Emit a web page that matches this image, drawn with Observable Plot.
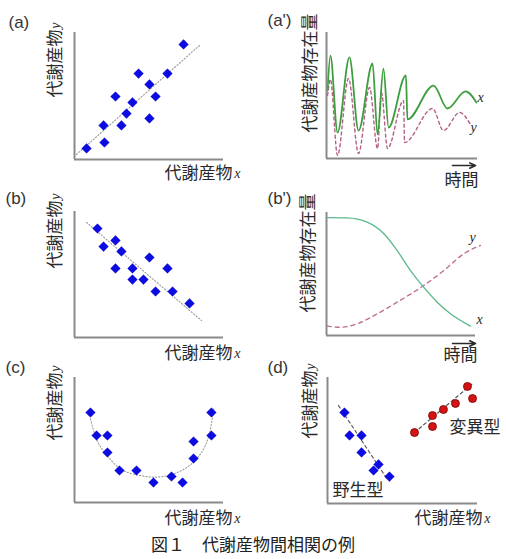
<!DOCTYPE html>
<html>
<head>
<meta charset="utf-8">
<script src="https://cdn.jsdelivr.net/npm/d3@7"></script>
<script src="https://cdn.jsdelivr.net/npm/@observablehq/plot@0.6"></script>
<style>
  body { margin: 0; background: #fff; }
  #fig { position: relative; width: 506px; height: 559px; font-family: "Noto Sans CJK JP", sans-serif; }
  #fig svg { position: absolute; }
  #caption { position: absolute; left: 0; width: 506px; top: 532px; text-align: center;
             font-size: 17px; line-height: 24px; color: #222; }
</style>
</head>
<body>
<div id="fig"><div id="caption">図１　代謝産物間相関の例</div></div>
<script>
// ---- (a) positive correlation ----
const aX = [8.1, 20.1, 19.5, 31.5, 34.9, 38.9, 27.5, 50.3, 54.4, 50.3, 43.0, 62.4, 73.2];
const aY = [8.7, 13.4, 26.8, 26.8, 36.2, 44.9, 49.6, 32.3, 49.6, 59.1, 67.7, 67.7, 90.6];
const aFitX = [1.3, 83.9];
const aFitY = [3.9, 89.8];

// ---- (a') oscillating time courses ----
const apT  = [0.7, 2.6, 7.3, 15.2, 21.2, 30.5, 33.8, 37.7, 41.1, 52.6, 53.6, 70.9, 80.1, 92.1, 99.3];
const apX  = [54.0, 81.7, 20.6, 80.2, 22.2, 75.4, 19.0, 71.4, 24.6, 65.9, 31.0, 57.9, 39.7, 53.2, 44.4];
const apTy = [0.7, 2.6, 7.3, 14.6, 21.2, 28.5, 33.8, 36.4, 40.4, 51.0, 51.7, 70.2, 77.5, 88.1, 95.4];
const apY  = [50.0, 62.7, 2.4, 63.5, 4.0, 56.3, 7.9, 52.4, 7.9, 46.0, 12.7, 39.7, 22.2, 36.5, 27.0];

// ---- (b) negative correlation ----
const bX = [15.4, 19.5, 27.5, 31.5, 27.5, 38.9, 38.9, 46.3, 50.3, 62.4, 54.4, 65.8, 77.2];
const bY = [86.5, 72.2, 77.0, 68.3, 54.8, 54.8, 46.0, 46.0, 63.5, 54.8, 36.5, 36.5, 27.0];
const bFitX = [8.1, 85.2];
const bFitY = [91.3, 13.5];

// ---- (b') opposite monotone time courses ----
const bpTx = [0.7, 13.9, 27.3, 38.5, 47.4, 56.4, 64.2, 74.3, 83.2, 96.6];
const bpX  = [95.9, 95.7, 92.1, 82.7, 69.1, 52.8, 40.7, 27.1, 17.6, 7.6];
const bpTy = [0.5, 9.4, 20.6, 34.0, 47.4, 64.2, 78.7, 92.1, 103.4];
const bpY  = [7.6, 6.7, 9.5, 17.6, 27.1, 39.8, 52.8, 66.4, 73.2];

// ---- (c) U-shaped relation ----
const cX = [10.7, 14.8, 22.1, 22.1, 30.2, 41.6, 53.0, 65.1, 72.5, 79.9, 79.9, 91.9, 91.9];
const cY = [72.0, 53.6, 53.6, 40.0, 25.6, 25.6, 16.0, 20.8, 16.0, 35.2, 48.8, 53.6, 72.0];
const cFitX = [10.7, 15.2, 21.9, 30.9, 42.1, 53.2, 64.4, 75.6, 84.6, 90.2, 93.5];
const cFitY = [67.0, 49.6, 37.6, 26.9, 22.1, 20.3, 22.1, 28.2, 38.9, 53.6, 75.0];

// ---- (d) wild type vs mutant ----
const dWildX = [11.3, 14.7, 22.7, 22.7, 34.0, 30.7, 41.3];
const dWildY = [72.2, 54.0, 54.0, 40.5, 31.0, 26.2, 21.4];
const dWildFitX = [7.3, 40.0];
const dWildFitY = [77.8, 19.0];
const dMutX = [58.0, 70.0, 70.0, 77.3, 85.3, 93.3, 96.7];
const dMutY = [56.3, 61.1, 69.8, 74.6, 79.4, 92.9, 83.3];
const dMutFitX = [58.0, 96.7];
const dMutFitY = [56.3, 95.2];

// ---- text ----
const metab = "代謝産物";
const amount = "代謝産物存在量";
const time = "時間";
const wildLabel = "野生型";
const mutLabel = "変異型";

const rows = (xs, ys) => xs.map((x, i) => ({x, y: ys[i]}));

const INK = "#2a2a2a";
const AXIS = "#8a8a8a";
const BLUE = "#0c0ce0";
const JP = "Noto Sans CJK JP";
const LAT = "Liberation Sans";
const SERIF = "Liberation Serif";

function frameText(str, o) {
  return Plot.text([str], {text: d => d, fill: INK, lineAnchor: "middle", ...o});
}

// axis label along y, optionally followed by an italic variable letter
function yLabel(main, letter, dx, top) {
  const marks = [];
  let off = top;
  if (letter) {
    marks.push(frameText(letter, {frameAnchor: "top-left", rotate: -90, textAnchor: "end",
      dx, dy: off, fontFamily: SERIF, fontStyle: "italic", fontSize: 14}));
    off += 7;
  }
  marks.push(frameText(main, {frameAnchor: "top-left", rotate: -90, textAnchor: "end",
    dx, dy: off, fontFamily: JP, fontSize: 17}));
  return marks;
}

function xLabel(dx, dy) {
  return [
    frameText("x", {frameAnchor: "bottom-right", textAnchor: "end", dx, dy,
      fontFamily: SERIF, fontStyle: "italic", fontSize: 14}),
    frameText(metab, {frameAnchor: "bottom-right", textAnchor: "end", dx: dx - 8, dy,
      fontFamily: JP, fontSize: 17})
  ];
}

function timeLabel(dx, dy, arrowX1, arrowX2, arrowY) {
  return [
    Plot.arrow([{x1: arrowX1, x2: arrowX2, y: arrowY}], {x1: "x1", x2: "x2", y1: "y", y2: "y",
      stroke: INK, strokeWidth: 1.6, headLength: 6, headAngle: 50}),
    frameText(time, {frameAnchor: "bottom-right", textAnchor: "end", dx, dy, fontFamily: JP, fontSize: 17})
  ];
}

function letterLabel(str, dx, dy) {
  return frameText(str, {frameAnchor: "top-left", textAnchor: "start", dx, dy, fontFamily: LAT, fontSize: 17, fill: "#333"});
}

function axes() {
  return [
    Plot.ruleX([0], {stroke: AXIS, strokeWidth: 2}),
    Plot.ruleY([0], {stroke: AXIS, strokeWidth: 2})
  ];
}

function diamonds(data) {
  return Plot.dot(data, {x: "x", y: "y", symbol: "diamond2", r: 4.6, fill: BLUE, stroke: "none"});
}

function dottedFit(xs, ys, curve = "linear") {
  return Plot.line(rows(xs, ys), {x: "x", y: "y", stroke: "#9a9a9a", strokeWidth: 1.1,
    strokeDasharray: "1.2,2", curve});
}

function panel({left, top, margins, marks}) {
  const [mt, mr, mb, ml] = margins;
  const svg = Plot.plot({
    width: 253,
    height: 180,
    marginTop: mt, marginRight: mr, marginBottom: mb, marginLeft: ml,
    x: {domain: [0, 100], axis: null},
    y: {domain: [0, 100], axis: null},
    style: {background: "transparent", overflow: "visible", fontFamily: JP},
    marks
  });
  svg.style.left = left + "px";
  svg.style.top = top + "px";
  document.getElementById("fig").appendChild(svg);
}

// (a)
panel({left: 0, top: 0, margins: [32, 30, 21, 74], marks: [
  letterLabel("(a)", -66, -10),
  ...yLabel(metab, "y", -19, -10),
  ...xLabel(17, 14),
  dottedFit(aFitX, aFitY),
  ...axes(),
  diamonds(rows(aX, aY))
]});

// (a')
panel({left: 253, top: 0, margins: [32, 29, 22, 73], marks: [
  letterLabel("(a')", -59, -12),
  ...yLabel(amount, null, -16, -19),
  ...timeLabel(1, 22, 83.4, 98.7, -5.6),
  Plot.line(rows(apTy, apY), {x: "x", y: "y", stroke: "#b5608a", strokeWidth: 1.4,
    strokeDasharray: "3,3", curve: "monotone-x"}),
  Plot.line(rows(apT, apX), {x: "x", y: "y", stroke: "#3c9e3c", strokeWidth: 1.8, curve: "monotone-x"}),
  ...axes(),
  Plot.text([{x: 102, y: 48.4, t: "x"}, {x: 97.4, y: 24.6, t: "y"}], {x: "x", y: "y", text: "t",
    fontFamily: SERIF, fontStyle: "italic", fontSize: 14, fill: INK})
]});

// (b)
panel({left: 0, top: 180, margins: [31, 30, 23, 74], marks: [
  letterLabel("(b)", -69, -13),
  ...yLabel(metab, "y", -19, -18),
  ...xLabel(17, 16),
  dottedFit(bFitX, bFitY),
  ...axes(),
  diamonds(rows(bX, bY))
]});

// (b')
panel({left: 253, top: 180, margins: [32, 31, 25, 73], marks: [
  letterLabel("(b')", -59, -14),
  ...yLabel(amount, null, -18, -19),
  ...timeLabel(2, 20, 84.6, 100, -6.5),
  Plot.line(rows(bpTy, bpY), {x: "x", y: "y", stroke: "#c0708f", strokeWidth: 1.4,
    strokeDasharray: "4,4", curve: "monotone-x"}),
  Plot.line(rows(bpTx, bpX), {x: "x", y: "y", stroke: "#5cb88a", strokeWidth: 1.3, curve: "monotone-x"}),
  ...axes(),
  Plot.text([{x: 98, y: 79.7, t: "y"}, {x: 102.7, y: 13, t: "x"}], {x: "x", y: "y", text: "t",
    fontFamily: SERIF, fontStyle: "italic", fontSize: 14, fill: INK})
]});

// (c)
panel({left: 0, top: 355, margins: [22, 30, 33, 74], marks: [
  letterLabel("(c)", -69, -10),
  ...yLabel(metab, "y", -19, -12),
  ...xLabel(17, 16),
  dottedFit(cFitX, cFitY, "natural"),
  ...axes(),
  diamonds(rows(cX, cY))
]});

// (d)
panel({left: 253, top: 355, margins: [22, 29, 32, 74], marks: [
  letterLabel("(d)", -60, -10),
  ...yLabel(metab, "y", -17, -14),
  ...xLabel(13, 15),
  Plot.line(rows(dWildFitX, dWildFitY), {x: "x", y: "y", stroke: "#555", strokeWidth: 1.2, strokeDasharray: "3,3"}),
  Plot.line(rows(dMutFitX, dMutFitY), {x: "x", y: "y", stroke: "#555", strokeWidth: 1.2, strokeDasharray: "3,3"}),
  ...axes(),
  diamonds(rows(dWildX, dWildY)),
  Plot.dot(rows(dMutX, dMutY), {x: "x", y: "y", r: 4, fill: "#d41414", stroke: "#7a0000", strokeWidth: 0.8}),
  Plot.text([mutLabel], {x: 81.3, y: 60.3, text: d => d, textAnchor: "start", fontFamily: JP, fontSize: 17, fill: INK}),
  Plot.text([wildLabel], {x: 3.3, y: 10.3, text: d => d, textAnchor: "start", fontFamily: JP, fontSize: 17, fill: INK})
]});
</script>
</body>
</html>
